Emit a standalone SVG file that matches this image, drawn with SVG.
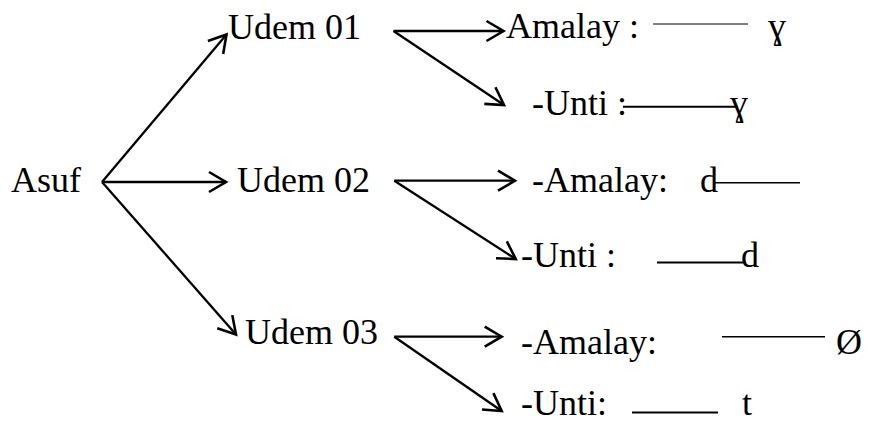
<svg xmlns="http://www.w3.org/2000/svg" width="870" height="423" viewBox="0 0 870 423">
  <style>
    text { font-family: "Liberation Serif", "Times New Roman", serif; font-size: 36px; fill: #000; }
    .conn { stroke: #000; stroke-width: 2.3; fill: none; marker-end: url(#chev); }
    .rule { stroke: #000; fill: none; }
  </style>
  <defs>
    <marker id="chev" markerUnits="userSpaceOnUse" markerWidth="40" markerHeight="40" refX="0" refY="0" orient="auto" overflow="visible" viewBox="-20 -20 40 40">
      <path d="M-17,-10 L0,0 L-17,10" fill="none" stroke="#000" stroke-width="2.6" stroke-linejoin="miter" stroke-linecap="butt"/>
    </marker>
  </defs>
  <rect width="870" height="423" fill="#fff"/>

  <g id="connectors">
    <line class="conn" x1="102" y1="182" x2="226.5" y2="34.5"/>
    <line class="conn" x1="102" y1="182" x2="226" y2="182"/>
    <line class="conn" x1="102" y1="182" x2="236" y2="334.5"/>

    <line class="conn" x1="393.5" y1="31" x2="503.5" y2="31"/>
    <line class="conn" x1="393.5" y1="31" x2="504" y2="105"/>

    <line class="conn" x1="394.3" y1="180.7" x2="515" y2="180.7"/>
    <line class="conn" x1="394.3" y1="180.7" x2="515.7" y2="259"/>

    <line class="conn" x1="394.3" y1="336.7" x2="501.7" y2="336.7"/>
    <line class="conn" x1="394.3" y1="336.7" x2="501.7" y2="411"/>
  </g>

  <g id="asuf"><text x="11" y="191.5">Asuf</text></g>
  <g id="udem01"><text x="228" y="39">Udem 01</text></g>
  <g id="udem02"><text x="237" y="191.5">Udem 02</text></g>
  <g id="udem03"><text x="245" y="343.5">Udem 03</text></g>

  <g id="u01-amalay">
    <text x="506" y="38">Amalay :</text>
    <line class="rule" stroke-width="1" x1="653" y1="24" x2="748" y2="24"/>
    <text x="768" y="38">ɣ</text>
  </g>
  <g id="u01-unti">
    <text x="532" y="114.5">-Unti :</text>
    <line class="rule" stroke-width="2" x1="623" y1="106.7" x2="738" y2="106.7"/>
    <text x="730" y="114.5">ɣ</text>
  </g>
  <g id="u02-amalay">
    <text x="532" y="191.5">-Amalay:</text>
    <text x="700" y="191.5">d</text>
    <line class="rule" stroke-width="1.5" x1="715" y1="182.7" x2="800" y2="182.7"/>
  </g>
  <g id="u02-unti">
    <text x="521" y="267">-Unti :</text>
    <line class="rule" stroke-width="2" x1="657" y1="262.5" x2="746" y2="262.5"/>
    <text x="741" y="267">d</text>
  </g>
  <g id="u03-amalay">
    <text x="521" y="353.5">-Amalay:</text>
    <line class="rule" stroke-width="1.5" x1="722" y1="336.7" x2="825" y2="336.7"/>
    <text x="836" y="353.5">Ø</text>
  </g>
  <g id="u03-unti">
    <text x="521" y="415">-Unti:</text>
    <line class="rule" stroke-width="2" x1="632" y1="412.5" x2="718" y2="412.5"/>
    <text x="742" y="415">t</text>
  </g>
</svg>
